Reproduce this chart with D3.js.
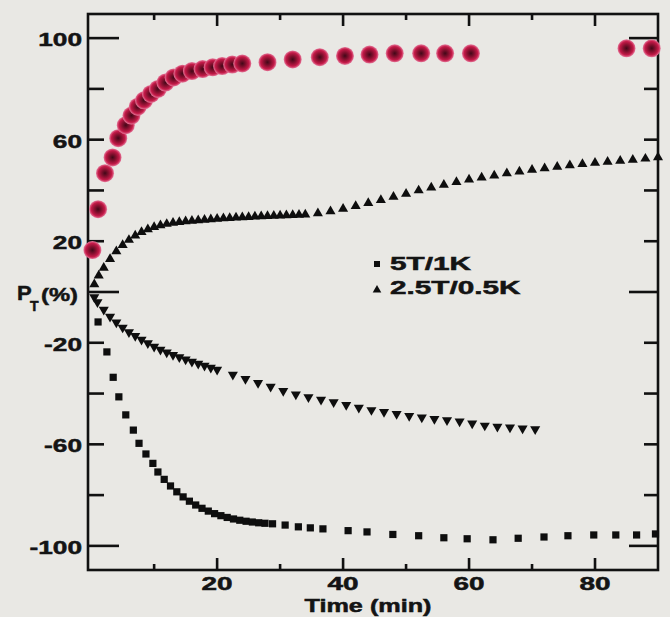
<!DOCTYPE html>
<html>
<head>
<meta charset="utf-8">
<script src="https://cdn.jsdelivr.net/npm/d3@7"></script>
<style>
  html, body { margin: 0; padding: 0; background: #e9e8e4; }
  svg { display: block; }
  text { font-family: "Liberation Sans", Arial, sans-serif; font-weight: bold; fill: #141414;
         stroke: #141414; stroke-width: 0.5; }
</style>
</head>
<body>
<div id="chart"></div>
<script>
// --- data (time in min, P_T in %) ---
const timeCircle = [0.2, 1.1, 2.2, 3.4, 4.3, 5.5, 6.4, 7.4, 8.4, 9.5, 10.6, 11.8, 13.1, 14.5, 16, 17.7, 19.3, 20.8, 22.4, 24,
  28, 32, 36.3, 40.3, 44.2, 48.2, 52.4, 56.2, 60.3, 85, 89];
const ptCircle = [16.5, 32.6, 46.8, 53, 60.6, 65.7, 69.5, 73, 75.5, 78, 80, 82.5, 84.5, 86, 87, 87.8, 88.5, 89, 89.6, 90,
  90.5, 91.6, 92.5, 93, 93.5, 94, 94, 94, 94, 96, 96];

const timeUp = [0.5, 1.2, 2, 3, 4, 5, 6, 7, 8, 9, 10, 11, 12, 13, 14, 15, 16, 17, 18, 19, 20, 21, 22, 23, 24, 25, 26, 27,
  28, 29, 30, 31, 32, 33, 34, 36, 38, 40, 42, 44, 46, 48, 50, 52, 54, 56, 58, 60, 62, 64, 66, 68, 70, 72, 74, 76, 78,
  80, 82, 84, 86, 88, 90];
const ptUp = [3, 6.5, 9.5, 13, 16, 18.5, 20.5, 22.2, 23.6, 24.7, 25.6, 26.3, 26.8, 27.2, 27.5, 27.8, 28, 28.2, 28.4,
  28.6, 28.8, 29, 29.1, 29.3, 29.4, 29.5, 29.7, 29.8, 29.9, 30, 30.1, 30.2, 30.3, 30.4, 30.5, 31, 31.8, 32.8, 33.8,
  35, 36.2, 37.5, 38.7, 40, 41.1, 42.2, 43.3, 44.3, 45.1, 45.9, 46.7, 47.4, 48.1, 48.7, 49.3, 49.9, 50.4, 50.9, 51.3,
  51.7, 52.1, 52.5, 53];

const timeDown = [0.5, 1, 2, 3, 4, 5, 6, 7, 8, 9, 10, 11, 12, 13, 14, 15, 16, 17, 18, 19, 20, 22.5, 24.5, 26.5, 28.5,
  30.5, 32.5, 34.5, 36.5, 38.5, 40.5, 42.5, 44.5, 46.5, 48.5, 50.5, 52.5, 54.5, 56.5, 58.5, 60.5, 62.5, 64.5, 66.5,
  68.5, 70.5];
const ptDown = [-2, -4, -7, -9.7, -12, -14, -15.8, -17.3, -18.8, -20.2, -21.5, -22.7, -23.8, -24.8, -25.7, -26.6,
  -27.4, -28.2, -29, -29.8, -30.6, -32.6, -34.2, -35.8, -37.3, -39, -40.3, -41.4, -42.4, -43.4, -44.5, -45.6, -46.5,
  -47.2, -48, -48.8, -49.4, -50, -50.5, -51, -51.8, -52.6, -53, -53.3, -53.7, -54];

const timeSquare = [1.1, 2.5, 3.5, 4.4, 5.5, 6.7, 7.6, 8.7, 9.8, 10.6, 11.6, 12.6, 13.6, 14.6, 15.6, 16.6, 17.6, 18.6,
  19.6, 20.6, 21.6, 22.6, 23.6, 24.6, 25.6, 26.6, 27.6, 28.8, 30.8, 32.9, 34.8, 36.8, 40.8, 43.8, 47.9, 52, 56, 59.7,
  63.8, 67.8, 71.9, 75.7, 79.8, 83.3, 86.6, 89.6];
const ptSquare = [-11.8, -23.6, -33.6, -41.3, -48.4, -54.4, -59.6, -63.8, -67.5, -70.9, -73.8, -76.4, -78.7, -80.7,
  -82.4, -83.9, -85.2, -86.3, -87.3, -88.1, -88.8, -89.4, -89.9, -90.3, -90.6, -90.9, -91.1, -91.3, -91.8, -92.5,
  -92.9, -93.3, -94, -94.5, -95.5, -96, -96.8, -97.2, -97.6, -97, -96.5, -96, -95.7, -95.7, -95.7, -95.3];

const xTicks = [10, 20, 30, 40, 50, 60, 70, 80];
const xLabels = [20, 40, 60, 80];
const yTicks = [-100, -80, -60, -40, -20, 0, 20, 40, 60, 80, 100];
const yLabels = [100, 60, 20, -20, -60, -100];
const legendLabels = ['5T/1K', '2.5T/0.5K'];

// --- layout ---
const width = 670, height = 617;
const x = d3.scaleLinear().domain([-0.5, 90]).range([88, 658]);
const y = d3.scaleLinear().domain([-109.5, 109.5]).range([570, 14]);

const svg = d3.select('#chart').append('svg')
  .attr('width', width)
  .attr('height', height);

// the original lettering is a wide, extended face: stretch the glyphs
function stretch(sel, k) {
  sel.each(function() {
    const w = this.getComputedTextLength();
    d3.select(this).attr('textLength', w * k).attr('lengthAdjust', 'spacingAndGlyphs');
  });
}

const defs = svg.append('defs');
const grad = defs.append('radialGradient').attr('id', 'dot');
grad.append('stop').attr('offset', '0%').attr('stop-color', '#420818');
grad.append('stop').attr('offset', '40%').attr('stop-color', '#86102f');
grad.append('stop').attr('offset', '75%').attr('stop-color', '#c41a48');
grad.append('stop').attr('offset', '100%').attr('stop-color', '#e57a9c');

// frame
svg.append('rect')
  .attr('x', x(-0.5)).attr('y', y(109.5))
  .attr('width', x(90) - x(-0.5)).attr('height', y(-109.5) - y(109.5))
  .attr('fill', 'none').attr('stroke', '#111').attr('stroke-width', 2.6);

// y ticks, both sides, pointing inward
const yLen = v => (Math.abs(v) === 100 || v === 0) ? 31 : 16;
svg.append('g').selectAll('line')
  .data(yTicks).join('line')
    .attr('x1', x(-0.5)).attr('x2', v => x(-0.5) + yLen(v))
    .attr('y1', v => y(v)).attr('y2', v => y(v))
    .attr('stroke', '#111').attr('stroke-width', 2.6);
svg.append('g').selectAll('line')
  .data(yTicks).join('line')
    .attr('x1', x(90)).attr('x2', v => x(90) - yLen(v) + 2)
    .attr('y1', v => y(v)).attr('y2', v => y(v))
    .attr('stroke', '#111').attr('stroke-width', 2.6);

// x ticks, top and bottom
const xLen = v => v % 20 === 0 ? 12 : 6;
svg.append('g').selectAll('line')
  .data(xTicks).join('line')
    .attr('x1', v => x(v)).attr('x2', v => x(v))
    .attr('y1', y(-109.5)).attr('y2', v => y(-109.5) - xLen(v))
    .attr('stroke', '#111').attr('stroke-width', 2.6);
svg.append('g').selectAll('line')
  .data(xTicks).join('line')
    .attr('x1', v => x(v)).attr('x2', v => x(v))
    .attr('y1', y(109.5)).attr('y2', v => y(109.5) + xLen(v))
    .attr('stroke', '#111').attr('stroke-width', 2.6);

// tick labels
svg.append('g').selectAll('text')
  .data(yLabels).join('text')
    .attr('x', 82).attr('y', v => y(v) + 8)
    .attr('text-anchor', 'end').attr('font-size', 19)
    .text(d => d)
    .call(stretch, 1.38);

svg.append('g').selectAll('text')
  .data(xLabels).join('text')
    .attr('x', v => x(v)).attr('y', 590)
    .attr('text-anchor', 'middle').attr('font-size', 18)
    .text(d => d)
    .call(stretch, 1.55);

// axis titles
svg.append('text')
  .attr('x', 368).attr('y', 612)
  .attr('text-anchor', 'middle').attr('font-size', 18)
  .text('Time (min)')
  .call(stretch, 1.4);

svg.append('text').attr('x', 17).attr('y', 300).attr('font-size', 20).text('P').call(stretch, 1.1);
svg.append('text').attr('x', 30).attr('y', 311).attr('font-size', 14).text('T');
svg.append('text').attr('x', 78).attr('y', 301).attr('text-anchor', 'end').attr('font-size', 19)
  .text('(%)').call(stretch, 1.25);

// series
const pts = (xs, ys) => xs.map((t, i) => [t, ys[i]]);

svg.append('g').selectAll('path')
  .data(pts(timeSquare, ptSquare)).join('path')
    .attr('transform', d => `translate(${x(d[0])},${y(d[1])})`)
    .attr('d', d3.symbol(d3.symbolSquare, 52))
    .attr('fill', '#0e0e0e');

svg.append('g').selectAll('path')
  .data(pts(timeDown, ptDown)).join('path')
    .attr('transform', d => `translate(${x(d[0])},${y(d[1])}) rotate(180)`)
    .attr('d', d3.symbol(d3.symbolTriangle, 44))
    .attr('fill', '#0e0e0e');

svg.append('g').selectAll('path')
  .data(pts(timeUp, ptUp)).join('path')
    .attr('transform', d => `translate(${x(d[0])},${y(d[1])})`)
    .attr('d', d3.symbol(d3.symbolTriangle, 44))
    .attr('fill', '#0e0e0e');

svg.append('g').selectAll('circle')
  .data(pts(timeCircle, ptCircle)).join('circle')
    .attr('cx', d => x(d[0])).attr('cy', d => y(d[1]))
    .attr('r', 9)
    .attr('fill', 'url(#dot)');

// legend
const legend = svg.append('g');
legend.append('path')
  .attr('transform', 'translate(377,264)')
  .attr('d', d3.symbol(d3.symbolSquare, 36))
  .attr('fill', '#0e0e0e');
legend.append('path')
  .attr('transform', 'translate(377,290)')
  .attr('d', d3.symbol(d3.symbolTriangle, 32))
  .attr('fill', '#0e0e0e');
legend.selectAll('text')
  .data(legendLabels).join('text')
    .attr('x', 390).attr('y', (d, i) => 270 + i * 24)
    .attr('font-size', 18)
    .text(d => d)
    .call(stretch, 1.65);
</script>
</body>
</html>
